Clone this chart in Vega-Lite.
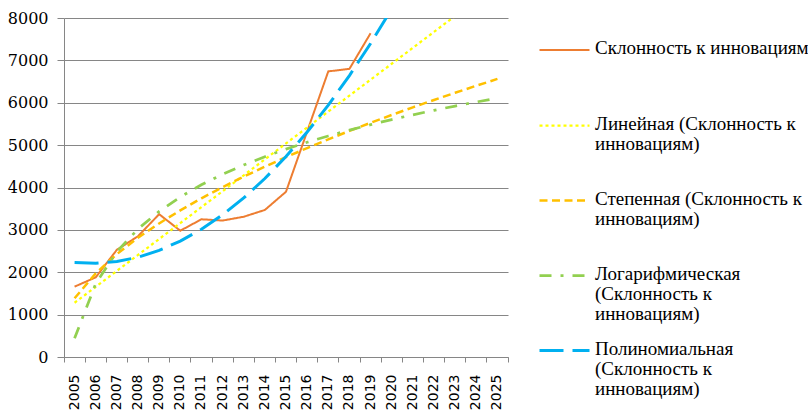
{
  "$schema": "https://vega.github.io/schema/vega-lite/v6.json",
  "width": 444,
  "height": 339,
  "autosize": "none",
  "padding": {"left": 64, "top": 18, "right": 300, "bottom": 56},
  "background": "#ffffff",
  "config": {"view": {"stroke": null}},
  "data": {
    "values": [
      {"year": "2005", "series": "Склонность к инновациям", "value": 1660},
      {"year": "2006", "series": "Склонность к инновациям", "value": 1880},
      {"year": "2007", "series": "Склонность к инновациям", "value": 2530},
      {"year": "2008", "series": "Склонность к инновациям", "value": 2850},
      {"year": "2009", "series": "Склонность к инновациям", "value": 3370},
      {"year": "2010", "series": "Склонность к инновациям", "value": 2980},
      {"year": "2011", "series": "Склонность к инновациям", "value": 3250},
      {"year": "2012", "series": "Склонность к инновациям", "value": 3220},
      {"year": "2013", "series": "Склонность к инновациям", "value": 3310},
      {"year": "2014", "series": "Склонность к инновациям", "value": 3470},
      {"year": "2015", "series": "Склонность к инновациям", "value": 3900},
      {"year": "2016", "series": "Склонность к инновациям", "value": 5320},
      {"year": "2017", "series": "Склонность к инновациям", "value": 6740},
      {"year": "2018", "series": "Склонность к инновациям", "value": 6800},
      {"year": "2019", "series": "Склонность к инновациям", "value": 7640},

      {"year": "2005", "series": "Линейная (Склонность к инновациям)", "value": 1280},
      {"year": "2006", "series": "Линейная (Склонность к инновациям)", "value": 1656},
      {"year": "2007", "series": "Линейная (Склонность к инновациям)", "value": 2032},
      {"year": "2008", "series": "Линейная (Склонность к инновациям)", "value": 2408},
      {"year": "2009", "series": "Линейная (Склонность к инновациям)", "value": 2784},
      {"year": "2010", "series": "Линейная (Склонность к инновациям)", "value": 3160},
      {"year": "2011", "series": "Линейная (Склонность к инновациям)", "value": 3536},
      {"year": "2012", "series": "Линейная (Склонность к инновациям)", "value": 3912},
      {"year": "2013", "series": "Линейная (Склонность к инновациям)", "value": 4288},
      {"year": "2014", "series": "Линейная (Склонность к инновациям)", "value": 4664},
      {"year": "2015", "series": "Линейная (Склонность к инновациям)", "value": 5040},
      {"year": "2016", "series": "Линейная (Склонность к инновациям)", "value": 5416},
      {"year": "2017", "series": "Линейная (Склонность к инновациям)", "value": 5792},
      {"year": "2018", "series": "Линейная (Склонность к инновациям)", "value": 6168},
      {"year": "2019", "series": "Линейная (Склонность к инновациям)", "value": 6544},
      {"year": "2020", "series": "Линейная (Склонность к инновациям)", "value": 6920},
      {"year": "2021", "series": "Линейная (Склонность к инновациям)", "value": 7296},
      {"year": "2022", "series": "Линейная (Склонность к инновациям)", "value": 7672},
      {"year": "2023", "series": "Линейная (Склонность к инновациям)", "value": 8048},
      {"year": "2024", "series": "Линейная (Склонность к инновациям)", "value": 8424},
      {"year": "2025", "series": "Линейная (Склонность к инновациям)", "value": 8800},

      {"year": "2005", "series": "Степенная (Склонность к инновациям)", "value": 1385},
      {"year": "2006", "series": "Степенная (Склонность к инновациям)", "value": 1974},
      {"year": "2007", "series": "Степенная (Склонность к инновациям)", "value": 2428},
      {"year": "2008", "series": "Степенная (Склонность к инновациям)", "value": 2813},
      {"year": "2009", "series": "Степенная (Склонность к инновациям)", "value": 3152},
      {"year": "2010", "series": "Степенная (Склонность к инновациям)", "value": 3460},
      {"year": "2011", "series": "Степенная (Склонность к инновациям)", "value": 3744},
      {"year": "2012", "series": "Степенная (Склонность к инновациям)", "value": 4008},
      {"year": "2013", "series": "Степенная (Склонность к инновациям)", "value": 4256},
      {"year": "2014", "series": "Степенная (Склонность к инновациям)", "value": 4492},
      {"year": "2015", "series": "Степенная (Склонность к инновациям)", "value": 4716},
      {"year": "2016", "series": "Степенная (Склонность к инновациям)", "value": 4931},
      {"year": "2017", "series": "Степенная (Склонность к инновациям)", "value": 5137},
      {"year": "2018", "series": "Степенная (Склонность к инновациям)", "value": 5335},
      {"year": "2019", "series": "Степенная (Склонность к инновациям)", "value": 5526},
      {"year": "2020", "series": "Степенная (Склонность к инновациям)", "value": 5712},
      {"year": "2021", "series": "Степенная (Склонность к инновациям)", "value": 5892},
      {"year": "2022", "series": "Степенная (Склонность к инновациям)", "value": 6066},
      {"year": "2023", "series": "Степенная (Склонность к инновациям)", "value": 6235},
      {"year": "2024", "series": "Степенная (Склонность к инновациям)", "value": 6401},
      {"year": "2025", "series": "Степенная (Склонность к инновациям)", "value": 6562},

      {"year": "2005", "series": "Логарифмическая (Склонность к инновациям)", "value": 440},
      {"year": "2006", "series": "Логарифмическая (Склонность к инновациям)", "value": 1731},
      {"year": "2007", "series": "Логарифмическая (Склонность к инновациям)", "value": 2486},
      {"year": "2008", "series": "Логарифмическая (Склонность к инновациям)", "value": 3021},
      {"year": "2009", "series": "Логарифмическая (Склонность к инновациям)", "value": 3437},
      {"year": "2010", "series": "Логарифмическая (Склонность к инновациям)", "value": 3776},
      {"year": "2011", "series": "Логарифмическая (Склонность к инновациям)", "value": 4063},
      {"year": "2012", "series": "Логарифмическая (Склонность к инновациям)", "value": 4312},
      {"year": "2013", "series": "Логарифмическая (Склонность к инновациям)", "value": 4531},
      {"year": "2014", "series": "Логарифмическая (Склонность к инновациям)", "value": 4727},
      {"year": "2015", "series": "Логарифмическая (Склонность к инновациям)", "value": 4905},
      {"year": "2016", "series": "Логарифмическая (Склонность к инновациям)", "value": 5067},
      {"year": "2017", "series": "Логарифмическая (Склонность к инновациям)", "value": 5216},
      {"year": "2018", "series": "Логарифмическая (Склонность к инновациям)", "value": 5354},
      {"year": "2019", "series": "Логарифмическая (Склонность к инновациям)", "value": 5482},
      {"year": "2020", "series": "Логарифмическая (Склонность к инновациям)", "value": 5603},
      {"year": "2021", "series": "Логарифмическая (Склонность к инновациям)", "value": 5715},
      {"year": "2022", "series": "Логарифмическая (Склонность к инновациям)", "value": 5822},
      {"year": "2023", "series": "Логарифмическая (Склонность к инновациям)", "value": 5922},
      {"year": "2024", "series": "Логарифмическая (Склонность к инновациям)", "value": 6018},
      {"year": "2025", "series": "Логарифмическая (Склонность к инновациям)", "value": 6109},

      {"year": "2005", "series": "Полиномиальная (Склонность к инновациям)", "value": 2230},
      {"year": "2006", "series": "Полиномиальная (Склонность к инновациям)", "value": 2212},
      {"year": "2007", "series": "Полиномиальная (Склонность к инновациям)", "value": 2253},
      {"year": "2008", "series": "Полиномиальная (Склонность к инновациям)", "value": 2354},
      {"year": "2009", "series": "Полиномиальная (Склонность к инновациям)", "value": 2515},
      {"year": "2010", "series": "Полиномиальная (Склонность к инновациям)", "value": 2735},
      {"year": "2011", "series": "Полиномиальная (Склонность к инновациям)", "value": 3015},
      {"year": "2012", "series": "Полиномиальная (Склонность к инновациям)", "value": 3354},
      {"year": "2013", "series": "Полиномиальная (Склонность к инновациям)", "value": 3753},
      {"year": "2014", "series": "Полиномиальная (Склонность к инновациям)", "value": 4212},
      {"year": "2015", "series": "Полиномиальная (Склонность к инновациям)", "value": 4730},
      {"year": "2016", "series": "Полиномиальная (Склонность к инновациям)", "value": 5308},
      {"year": "2017", "series": "Полиномиальная (Склонность к инновациям)", "value": 5945},
      {"year": "2018", "series": "Полиномиальная (Склонность к инновациям)", "value": 6642},
      {"year": "2019", "series": "Полиномиальная (Склонность к инновациям)", "value": 7399},
      {"year": "2020", "series": "Полиномиальная (Склонность к инновациям)", "value": 8215}
    ]
  },
  "mark": {"type": "line", "clip": true},
  "encoding": {
    "x": {
      "field": "year",
      "type": "ordinal",
      "bandPosition": 0.5,
      "scale": {"type": "band", "paddingInner": 0, "paddingOuter": 0},
      "axis": {
        "title": null,
        "labelAngle": 270,
        "labelAlign": "right",
        "labelBaseline": "middle",
        "labelFont": "DejaVu Sans",
        "labelFontSize": 14,
        "labelColor": "#000000",
        "labelPadding": 12,
        "labelOverlap": false,
        "tickSize": 5,
        "bandPosition": 1,
        "tickExtra": true,
        "domainColor": "#868686",
        "tickColor": "#868686",
        "grid": false
      }
    },
    "y": {
      "field": "value",
      "type": "quantitative",
      "scale": {"domain": [0, 8000], "nice": false},
      "axis": {
        "title": null,
        "values": [0, 1000, 2000, 3000, 4000, 5000, 6000, 7000, 8000],
        "format": "d",
        "labelFont": "DejaVu Serif",
        "labelFontSize": 16,
        "labelColor": "#000000",
        "tickSize": 7,
        "labelPadding": 9,
        "domainColor": "#868686",
        "tickColor": "#868686",
        "gridColor": "#868686",
        "gridWidth": 1
      }
    },
    "color": {
      "field": "series",
      "type": "nominal",
      "scale": {
        "domain": ["Склонность к инновациям", "Линейная (Склонность к инновациям)", "Степенная (Склонность к инновациям)", "Логарифмическая (Склонность к инновациям)", "Полиномиальная (Склонность к инновациям)"],
        "range": ["#ED7D31", "#FFFF00", "#FFC000", "#92D050", "#00B0F0"]
      },
      "legend": {
        "orient": "none",
        "legendX": 474,
        "legendY": 6,
        "title": null,
        "padding": 0,
        "symbolType": "stroke",
        "symbolSize": 2500,
        "labelFont": "Liberation Serif",
        "labelFontSize": 19,
        "labelColor": "#000000",
        "labelLimit": 400,
        "labelBaseline": "top",
        "labelOffset": 4,
        "rowPadding": 0,
        "labelExpr": "datum.label == 'Склонность к инновациям' ? ['Склонность к инновациям', ' ', ' '] : datum.label == 'Линейная (Склонность к инновациям)' ? ['Линейная (Склонность к', 'инновациям)', ' '] : datum.label == 'Степенная (Склонность к инновациям)' ? ['Степенная (Склонность к', 'инновациям)', ' '] : datum.label == 'Логарифмическая (Склонность к инновациям)' ? ['Логарифмическая', '(Склонность к', 'инновациям)'] : ['Полиномиальная', '(Склонность к', 'инновациям)']",
        "encode": {"labels": {"update": {"lineHeight": {"value": 20.2}, "dy": {"value": -11}}}}
      }
    },
    "strokeDash": {
      "field": "series",
      "type": "nominal",
      "scale": {
        "domain": ["Склонность к инновациям", "Линейная (Склонность к инновациям)", "Степенная (Склонность к инновациям)", "Логарифмическая (Склонность к инновациям)", "Полиномиальная (Склонность к инновациям)"],
        "range": [[1, 0], [3, 3], [8, 4.5], [12, 9, 3, 9], [24, 9]]
      }
    },
    "strokeWidth": {
      "field": "series",
      "type": "nominal",
      "scale": {
        "domain": ["Склонность к инновациям", "Линейная (Склонность к инновациям)", "Степенная (Склонность к инновациям)", "Логарифмическая (Склонность к инновациям)", "Полиномиальная (Склонность к инновациям)"],
        "range": [2, 3, 3, 3, 3]
      }
    }
  }
}
